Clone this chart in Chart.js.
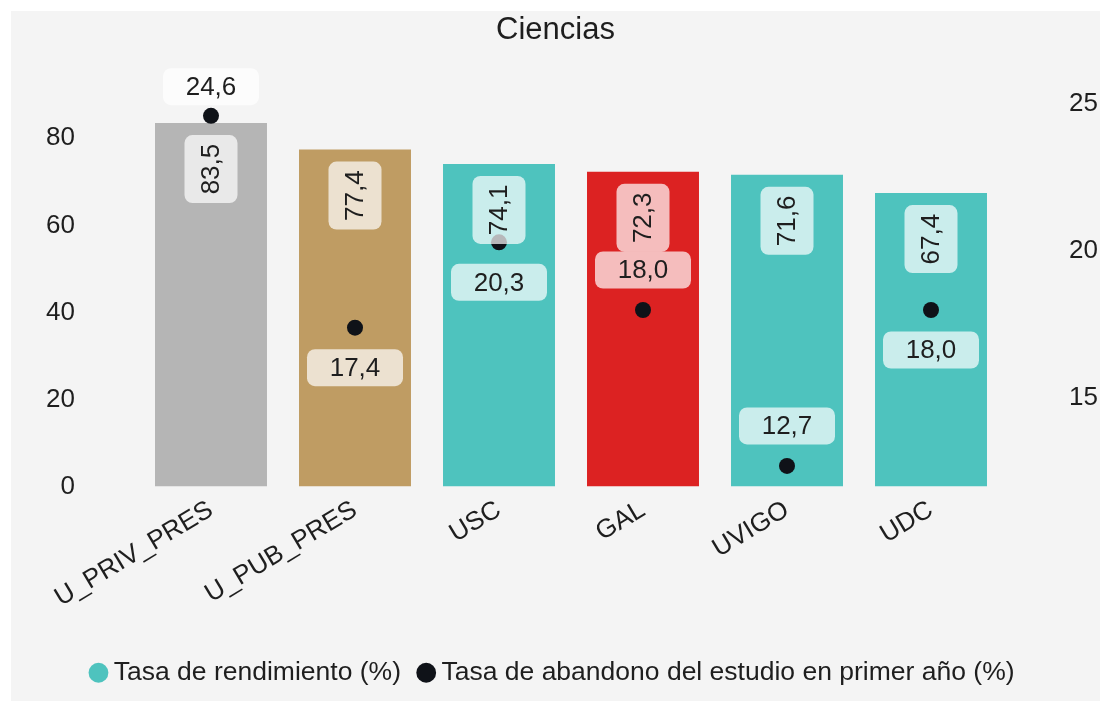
<!DOCTYPE html>
<html lang="es">
<head>
<meta charset="utf-8">
<title>Ciencias</title>
<script src="https://cdn.jsdelivr.net/npm/chart.js@4/dist/chart.umd.min.js"></script>
<style>
  html, body { margin: 0; padding: 0; background: #ffffff; overflow: hidden; }
  #wrap {
    position: absolute; left: 11px; top: 11px;
    width: 1089px; height: 690px; background: #f4f4f4;
  }
</style>
</head>
<body>
<div id="wrap"><canvas id="chart" width="1089" height="690"></canvas></div>
<script>
// ─── Data ───
const categories = ['U_PRIV_PRES', 'U_PUB_PRES', 'USC', 'GAL', 'UVIGO', 'UDC'];
const rendimiento = [83.5, 77.4, 74.1, 72.3, 71.6, 67.4];
const abandono = [24.6, 17.4, 20.3, 18.0, 12.7, 18.0];
const seriesNames = ['Tasa de rendimiento (%)', 'Tasa de abandono del estudio en primer año (%)'];

// ─── Style ───
const barColors = ['#b5b5b5', '#bf9c63', '#4ec3be', '#dc2222', '#4ec3be', '#4ec3be'];
const dotColor = '#0f1218';
const textColor = '#1e1e1e';
const font = 'Arial, "Liberation Sans", sans-serif';
// label above (-1) or below (+1) each dot
const dotLabelSide = [-1, 1, 1, -1, -1, 1];

const fmt = v => v.toFixed(1).replace('.', ',');

function box(ctx, x, y, w, h) {
  ctx.beginPath();
  ctx.roundRect(x, y, w, h, 8);
  ctx.fillStyle = 'rgba(255,255,255,0.7)';
  ctx.fill();
}

// draws the boxed value labels (no datalabels plugin available offline)
const valueLabels = {
  id: 'valueLabels',
  afterDatasetsDraw(chart) {
    const ctx = chart.ctx;
    const area = chart.chartArea;
    ctx.save();
    ctx.font = '26px ' + font;
    ctx.textAlign = 'center';
    ctx.textBaseline = 'middle';

    chart.getDatasetMeta(0).data.forEach((bar, i) => {
      ctx.save();
      ctx.translate(bar.x, bar.y + 12 + 34);
      ctx.rotate(-Math.PI / 2);
      box(ctx, -34, -26.5, 68, 53);
      ctx.fillStyle = textColor;
      ctx.fillText(fmt(rendimiento[i]), 0, 1);
      ctx.restore();
    });

    chart.getDatasetMeta(1).data.forEach((pt, i) => {
      let cy = pt.y + dotLabelSide[i] * 40;
      cy = Math.max(cy, area.top + 18.5);
      box(ctx, pt.x - 48, cy - 18.5, 96, 37);
      ctx.fillStyle = textColor;
      ctx.fillText(fmt(abandono[i]), pt.x, cy + 1);
    });
    ctx.restore();
  },
};

const ctx = document.getElementById('chart').getContext('2d');
new Chart(ctx, {
  data: {
    labels: categories,
    datasets: [
      {
        type: 'bar',
        label: seriesNames[0],
        data: rendimiento,
        backgroundColor: barColors,
        yAxisID: 'y',
        categoryPercentage: 0.8,
        barPercentage: 0.972,
        order: 1,
      },
      {
        type: 'line',
        label: seriesNames[1],
        data: abandono,
        showLine: false,
        pointRadius: 8,
        pointHoverRadius: 8,
        pointBackgroundColor: dotColor,
        pointBorderWidth: 0,
        backgroundColor: dotColor,
        yAxisID: 'y1',
        order: 0,
      },
    ],
  },
  options: {
    responsive: false,
    animation: false,
    layout: { padding: { top: 0, bottom: 5 } },
    plugins: {
      tooltip: { enabled: false },
      title: {
        display: true,
        text: 'Ciencias',
        color: textColor,
        font: { family: font, size: 31, weight: 'normal' },
        padding: { top: 1, bottom: 19 },
      },
      legend: {
        position: 'bottom',
        labels: {
          usePointStyle: true,
          pointStyle: 'circle',
          boxWidth: 4,
          boxHeight: 14,
          color: textColor,
          font: { family: font, size: 26.5 },
          padding: 10,
          // en space keeps a little room before the second marker
          generateLabels: () => [
            { text: seriesNames[0] + '\u2002', fillStyle: '#4ec3be', strokeStyle: '#4ec3be', lineWidth: 0, pointStyle: 'circle', datasetIndex: 0, fontColor: textColor },
            { text: seriesNames[1], fillStyle: dotColor, strokeStyle: dotColor, lineWidth: 0, pointStyle: 'circle', datasetIndex: 1, fontColor: textColor },
          ],
        },
      },
    },
    scales: {
      x: {
        grid: { display: false, drawTicks: false },
        border: { display: false },
        ticks: {
          color: textColor,
          font: { family: font, size: 26 },
          minRotation: 31,
          maxRotation: 31,
          padding: 8,
          autoSkip: false,
        },
        afterFit: (s) => { s.height = 163; },
      },
      y: {
        position: 'left',
        min: 0,
        max: 96.1,
        grid: { display: false, tickLength: 60 },
        border: { display: false },
        ticks: {
          stepSize: 20,
          includeBounds: false,
          color: textColor,
          font: { family: font, size: 26 },
          padding: 4,
        },
        afterFit: (s) => { s.width = 128; },
      },
      y1: {
        position: 'right',
        min: 12,
        max: 26.22,
        grid: { display: false, tickLength: 62 },
        border: { display: false },
        ticks: {
          stepSize: 5,
          includeBounds: false,
          color: textColor,
          font: { family: font, size: 26 },
          padding: 4,
        },
        afterFit: (s) => { s.width = 97; },
      },
    },
  },
  plugins: [valueLabels],
});
</script>
</body>
</html>
